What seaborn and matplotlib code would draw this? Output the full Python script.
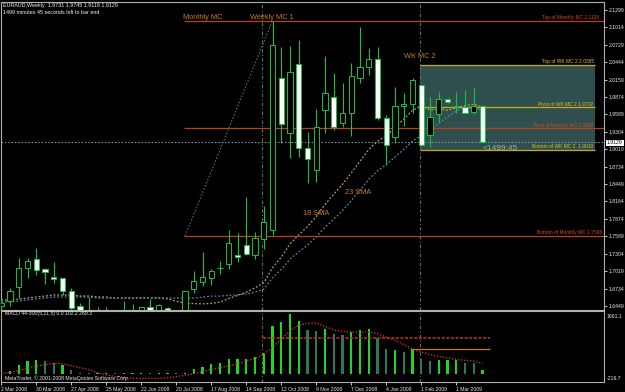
import numpy as np
import pandas as pd
import matplotlib
matplotlib.use("Agg")
import matplotlib.pyplot as plt
from matplotlib.patches import Rectangle
import seaborn as sns

# ---------------- data ----------------
weeks = list(range(56))
opens = [1.6449, 1.6531, 1.6760, 1.7072, 1.7219, 1.7055, 1.6924, 1.6908, 1.6695, 1.6449,
         1.6290, 1.6350, 1.6300, 1.6340, 1.6280, 1.6330, 1.6300, 1.6433, 1.6370, 1.6420,
         1.6360, 1.6390, 1.6728, 1.6842, 1.6908, 1.7072, 1.7137, 1.7285, 1.7449, 1.7285,
         1.7547, 1.7694, 2.0185, 1.9284, 2.0414, 1.9038, 1.8678, 1.9661, 1.9874, 1.9448,
         1.9612, 2.0185, 2.0365, 2.0496, 1.9530, 1.9218, 1.9726, 1.9759, 2.0070, 1.9251,
         1.9595, 1.9841, 1.9726, 1.9710, 1.9628, 1.9731]
highs = [1.6564, 1.6744, 1.7236, 1.7236, 1.7400, 1.7072, 1.7170, 1.6908, 1.6744, 1.6498,
         1.6597, 1.6433, 1.6433, 1.6370, 1.6531, 1.6482, 1.6440, 1.6564, 1.6480, 1.6433,
         1.6378, 1.6695, 1.7023, 1.7334, 1.7055, 1.7187, 1.7694, 1.7645, 1.8235, 1.7662,
         1.8088, 2.1126, 2.0693, 2.0709, 2.0808, 1.9300, 1.9677, 2.0545, 2.0267, 2.0103,
         2.0431, 2.1021, 2.0677, 2.0693, 1.9579, 2.0038, 1.9939, 2.0185, 2.0090, 1.9874,
         1.9956, 1.9857, 1.9956, 1.9988, 2.0021, 1.9745]
lows = [1.6400, 1.6449, 1.6580, 1.6908, 1.6957, 1.6810, 1.6826, 1.6629, 1.6384, 1.6250,
        1.6230, 1.6220, 1.6250, 1.6180, 1.6200, 1.6210, 1.6260, 1.6300, 1.6320, 1.6300,
        1.6300, 1.6370, 1.6662, 1.6777, 1.6793, 1.6974, 1.7055, 1.7170, 1.7290, 1.7219,
        1.7383, 1.7613, 1.9120, 1.8874, 1.8891, 1.8465, 1.8481, 1.9284, 1.9333, 1.9382,
        1.9235, 2.0103, 2.0234, 1.9497, 1.8760, 1.9120, 1.9399, 1.9612, 1.9070, 1.9054,
        1.9448, 1.9775, 1.9612, 1.9612, 1.9595, 1.9118]
closes = [1.6498, 1.6695, 1.7072, 1.7187, 1.7039, 1.7006, 1.6892, 1.6695, 1.6416, 1.6320,
          1.6350, 1.6300, 1.6340, 1.6280, 1.6330, 1.6300, 1.6433, 1.6370, 1.6466, 1.6380,
          1.6370, 1.6695, 1.6859, 1.6924, 1.7023, 1.7080, 1.7481, 1.7252, 1.7301, 1.7563,
          1.7826, 2.0726, 1.9431, 2.0283, 1.9038, 1.8858, 1.9382, 1.9939, 1.9382, 1.9612,
          2.0218, 2.0365, 2.0496, 1.9530, 1.9087, 1.9726, 1.9759, 2.0152, 1.9087, 1.9546,
          1.9841, 1.9792, 1.9710, 1.9612, 1.9726, 1.9129]

# moving-average values at the left edge (their history lies before the chart)
sma18_early = [1.6548, 1.6548, 1.6564, 1.6580, 1.6597, 1.6613, 1.6629, 1.6629, 1.6629,
               1.6613, 1.6613, 1.6597, 1.6597, 1.6580, 1.6580, 1.6580, 1.6580]
sma23_early = [1.6515, 1.6515, 1.6531, 1.6548, 1.6564, 1.6580, 1.6597, 1.6597, 1.6597,
               1.6597, 1.6597, 1.6580, 1.6580, 1.6580, 1.6580, 1.6580, 1.6580, 1.6580,
               1.6580, 1.6580, 1.6580, 1.6580]

macd_hist = [0, 70, 220, 334, 352, 334, 290, 220, 88, 26,
             26, 15, 15, 15, 15, 15, 15, 15, 15, 15,
             10, 26, 114, 185, 246, 290, 396, 396, 396, 449,
             554, 1276, 1373, 1584, 1390, 1162, 1135, 1197, 1065, 1038,
             1109, 1170, 1197, 950, 660, 616, 581, 642, 396, 334,
             370, 361, 352, 290, 273, 102.2]
macd_shade = ["b", "b", "b", "b", "b", "d", "d", "b", "d", "d",
              "d", "b", "b", "d", "b", "b", "b", "d", "b", "b",
              "d", "b", "b", "b", "b", "b", "b", "b", "b", "b",
              "b", "b", "b", "b", "b", "d", "d", "b", "d", "d",
              "b", "b", "b", "d", "d", "b", "d", "b", "d", "d",
              "b", "b", "b", "d", "d", "b"]
macd_signal = [0, 35, 79, 150, 202, 238, 273, 264, 211, 158,
               106, 26, -35, -70, -97, -114, -123, -123, -123, -106,
               -79, -44, 0, 53, 114, 158, 211, 264, 334, 405,
               510, 704, 898, 1144, 1276, 1338, 1346, 1250, 1162, 1118,
               1100, 1100, 1109, 1056, 968, 889, 774, 651, 572, 510,
               458, 422, 378, 352, 334, 269.3]

price_ticks = [2.1299, 2.1014, 2.0729, 2.0444, 2.0159, 1.9874, 1.9589, 1.9304, 1.9019,
               1.8734, 1.8449, 1.8164, 1.7874, 1.7589, 1.7304, 1.7019, 1.6734, 1.6449]
date_ticks = [0, 4, 8, 12, 16, 20, 24, 28, 32, 36, 40, 44, 48, 52]
date_labels = ["2 Mar 2008", "30 Mar 2008", "27 Apr 2008", "25 May 2008", "22 Jun 2008",
               "20 Jul 2008", "17 Aug 2008", "14 Sep 2008", "12 Oct 2008", "9 Nov 2008",
               "7 Dec 2008", "4 Jan 2009", "1 Feb 2009", "1 Mar 2009"]

monthly_top, monthly_pivot, monthly_bottom = 2.1126, 1.9360, 1.7596
wk_top, wk_pivot, wk_bottom = 2.0395, 1.9702, 1.9010
bid = 1.9129
macd_level_red, macd_level_orange = 950, 651

# ---------------- style ----------------
sns.set_theme(style="dark", rc={"axes.facecolor": "black", "figure.facecolor": "black",
                                "savefig.facecolor": "black"})
plt.rcParams["font.family"] = ["Liberation Sans", "DejaVu Sans"]

W, H = 625, 392
fig = plt.figure(figsize=(W / 100, H / 100), dpi=100)
ax = fig.add_axes([1 / W, 1 - 310 / H, 603 / W, 308 / H])
axm = fig.add_axes([1 / W, 1 - 382 / H, 603 / W, 71 / H])

XMIN = -0.03
XMAX = XMIN + 603 / 8.75
GREEN = "#16C23C"
RED = "#B8401A"
GOLD = "#C8AC10"
ORANGE = "#C8781E"

df = pd.DataFrame({"week": weeks, "open": opens, "high": highs, "low": lows, "close": closes})
sma18 = df["close"].rolling(18).mean()
sma23 = df["close"].rolling(23).mean()
sma18.iloc[:len(sma18_early)] = sma18_early
sma23.iloc[:len(sma23_early)] = sma23_early
df["sma18"] = sma18
df["sma23"] = sma23

# box of WK MC 2
ax.add_patch(Rectangle((47.85, wk_bottom), 20.0, wk_top - wk_bottom,
                       facecolor="#2F4F4F", edgecolor="none", zorder=0.5))

# candles
for _, r in df.iterrows():
    ax.vlines(r["week"], r["low"], r["high"], color=GREEN, lw=0.8, zorder=3)
    bull = r["close"] >= r["open"]
    h = max(abs(r["close"] - r["open"]), 0.0006)
    ax.bar(r["week"], h, bottom=min(r["open"], r["close"]), width=0.62,
           color="black" if bull else "white", edgecolor=GREEN, lw=0.7, zorder=4)

# moving averages
sns.lineplot(data=df, x="week", y="sma18", ax=ax, color="#B4A064", lw=0.9,
             linestyle=(0, (1.5, 1.5)), zorder=2)
sns.lineplot(data=df, x="week", y="sma23", ax=ax, color="#5A80A8", lw=0.9,
             linestyle=(0, (1.5, 1.5)), zorder=2)

# monthly MC trendline
ax.plot([21, 31], [monthly_bottom, monthly_top], color="#2E7A5A", lw=0.8,
        linestyle=(0, (1.5, 1.5)), zorder=2)

# horizontal levels
for lvl in (monthly_top, monthly_pivot, monthly_bottom):
    ax.hlines(lvl, 20.9, XMAX, color=RED, lw=0.9, zorder=2)
for lvl in (wk_top, wk_pivot, wk_bottom):
    ax.hlines(lvl, 47.85, 67.85, color=GOLD, lw=0.9, zorder=2)
ax.hlines(bid, XMIN, XMAX, color="#7A8A9A", lw=0.8, linestyle=(0, (1.5, 1.5)), zorder=2.5)

# vertical separators
for a in (ax, axm):
    for v in (29.85, 47.85):
        a.axvline(v, color="#707050", lw=0.8, linestyle=(0, (3, 2, 1, 2)), zorder=1)

# labels on the chart
lbl = dict(fontsize=5.3, color=ORANGE, va="center", ha="left", zorder=6)
ax.text(20.75, 2.1184, "Monthly MC", **lbl)
ax.text(28.45, 2.1184, "Weekly MC 1", **lbl)
ax.text(46.05, 2.0529, "WK MC 2", **lbl)
ax.text(39.3, 1.8317, "23 SMA", **lbl)
ax.text(34.5, 1.7973, "18 SMA", **lbl)
ax.text(55.05, 1.9038, "<1499:45", fontsize=6, color="#A8A8A8", va="center", ha="left", zorder=6)

small = dict(fontsize=3.5, va="bottom", ha="right", zorder=6)
ax.text(68.35, monthly_top + 0.0012, "Top of Monthly MC 2.1126", color="#D04A1A", **small)
ax.text(67.7, monthly_pivot + 0.0012, "Pivot of Monthly MC 1.9360", color="#D04A1A", **small)
ax.text(68.7, monthly_bottom + 0.0012, "Bottom of Monthly MC 1.7596", color="#D04A1A", **small)
ax.text(67.7, wk_top + 0.0012, "Top of WK MC 2 2.0395", color="#D8C020", **small)
ax.text(67.7, wk_pivot + 0.0012, "Pivot of WK MC 2 1.9702", color="#D8C020", **small)
ax.text(67.7, wk_bottom + 0.0012, "Bottom of WK MC 2  1.9010", color="#D8C020", **small)

ax.set_xlim(XMIN, XMAX)
ax.set_ylim(1.6384, 2.1430)
ax.set_xticks([])
ax.yaxis.tick_right()
ax.set_yticks(price_ticks)
ax.set_yticklabels([f"{t:.4f}" for t in price_ticks])
ax.tick_params(axis="y", colors="#E8E8E8", labelsize=3.7, length=2, width=0.6, pad=1.5,
               left=False, right=True)
ax.set_xlabel("")
ax.set_ylabel("")

# ---------------- MACD pane ----------------
hist_df = pd.DataFrame({"week": weeks, "hist": macd_hist, "shade": macd_shade})
sns.barplot(data=hist_df, x="week", y="hist", hue="shade", native_scale=True,
            palette={"b": "#1ED81E", "d": "#2A7A5A"}, dodge=False, width=0.24,
            saturation=1, edgecolor="none", linewidth=0, ax=axm, legend=False, zorder=3)
sig_df = pd.DataFrame({"week": weeks, "signal": macd_signal})
sns.lineplot(data=sig_df, x="week", y="signal", ax=axm, color="#C83020", lw=1.0,
             linestyle=(0, (1, 1.2)), zorder=4)
axm.hlines(macd_level_red, 29.9, 55.86, color="#C83020", lw=1.1, linestyle=(0, (2, 1)), zorder=4)
axm.hlines(macd_level_orange, 46.94, 55.86, color=ORANGE, lw=0.9, zorder=4)

axm.set_xlim(XMIN, XMAX)
axm.set_ylim(-219.7, 1661.1)
axm.set_yticks([])
axm.set_xticks(date_ticks)
axm.set_xticklabels(date_labels, ha="left")
axm.tick_params(axis="x", colors="#E8E8E8", labelsize=3.7, length=2, width=0.6, pad=1.5,
                bottom=True)
axm.set_xlabel("")
axm.set_ylabel("")
axm.text(0.4, 1600, "MACD 44-300(5,21,5) 0.0 102.2 269.3", fontsize=3.7, color="#E8E8E8",
         va="center", ha="left")
axm.text(0.4, -130, "MetaTrader, \u00a9 2001-2008 MetaQuotes Software Corp.", fontsize=3.7,
         color="#E8E8E8", va="center", ha="left", zorder=6)

for a in (ax, axm):
    for s in a.spines.values():
        s.set_color("#B0B0B0")
        s.set_linewidth(0.8)
    a.grid(False)

# header text and side labels
fig.text(3 / W, 1 - 5 / H, "EURAUD,Weekly  1.9731 1.9745 1.9118 1.9129", fontsize=3.9,
         color="#F0F0F0", va="center", ha="left")
fig.text(3 / W, 1 - 12 / H, "1499 minutes 45 seconds left to bar end", fontsize=3.9,
         color="#F0F0F0", va="center", ha="left")
fig.text(607 / W, 1 - 143 / H, "1.9129", fontsize=3.7, color="black", va="center", ha="left",
         bbox=dict(boxstyle="square,pad=0.15", facecolor="white", edgecolor="none"))
fig.text(607 / W, 1 - 316 / H, "1661.1", fontsize=3.7, color="#E8E8E8", va="center", ha="left")
fig.text(607 / W, 1 - 378 / H, "-219.7", fontsize=3.7, color="#E8E8E8", va="center", ha="left")

fig.savefig("out.png", dpi=100, facecolor="black")
